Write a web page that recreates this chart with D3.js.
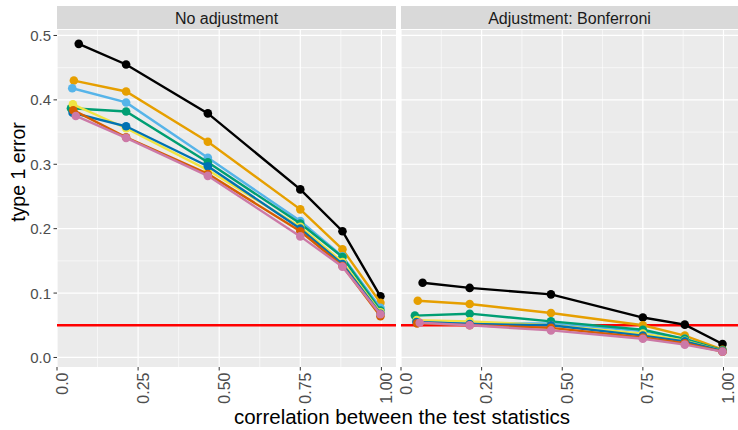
<!DOCTYPE html>
<html>
<head>
<meta charset="utf-8">
<script src="https://cdn.jsdelivr.net/npm/d3@7"></script>
<style>
  body { margin: 0; background: #fff; }
  svg { font-family: "Liberation Sans", Arial, sans-serif; }
</style>
</head>
<body>
<svg id="chart" width="738" height="430"></svg>
<script>
// correlation values (x) shared by all series, first point differs a little per series
let corr = [0.05, 0.213, 0.465, 0.75, 0.88, 0.997];
let firstCorr = [0.067, 0.052, 0.047, 0.043, 0.049, 0.048, 0.05, 0.058];

let colors = ["#000000", "#E69F00", "#56B4E9", "#009E73", "#F0E442", "#0072B2", "#D55E00", "#CC79A7"];

let panelTitles = ["No adjustment", "Adjustment: Bonferroni"];

// type 1 error, no adjustment
let noAdj = [
  [0.487, 0.455, 0.379, 0.261, 0.196, 0.095],
  [0.430, 0.413, 0.335, 0.230, 0.168, 0.085],
  [0.418, 0.396, 0.310, 0.212, 0.157, 0.077],
  [0.387, 0.382, 0.303, 0.208, 0.156, 0.073],
  [0.393, 0.356, 0.291, 0.203, 0.148, 0.070],
  [0.380, 0.359, 0.297, 0.200, 0.145, 0.068],
  [0.384, 0.342, 0.285, 0.196, 0.142, 0.064],
  [0.375, 0.341, 0.282, 0.188, 0.141, 0.067]
];

// type 1 error, Bonferroni
let bonf = [
  [0.116, 0.108, 0.098, 0.062, 0.051, 0.021],
  [0.088, 0.083, 0.069, 0.050, 0.034, 0.012],
  [0.057, 0.053, 0.053, 0.041, 0.029, 0.010],
  [0.065, 0.068, 0.056, 0.043, 0.029, 0.011],
  [0.058, 0.056, 0.050, 0.037, 0.026, 0.010],
  [0.055, 0.052, 0.050, 0.034, 0.025, 0.010],
  [0.053, 0.050, 0.046, 0.031, 0.022, 0.009],
  [0.054, 0.050, 0.042, 0.029, 0.020, 0.009]
];

let alpha = 0.05;
let xTicks = [0, 0.25, 0.5, 0.75, 1];
let xTickLabels = ["0.0", "0.25", "0.50", "0.75", "1.00"];
let yTicks = [0, 0.1, 0.2, 0.3, 0.4, 0.5];

let svg = d3.select("#chart");

let panelTop = 30, panelBottom = 367, stripTop = 6;
let panels = [
  { x0: 57, x1: 396, data: noAdj, title: panelTitles[0] },
  { x0: 401, x1: 738, data: bonf, title: panelTitles[1] }
];

let y = d3.scaleLinear().domain([-0.0148, 0.5085]).range([panelBottom, panelTop]);

panels.forEach(function(p, pi) {
  let x = d3.scaleLinear().domain([0, 1.045]).range([p.x0, p.x1]);
  let g = svg.append("g");

  // background
  g.append("rect")
    .attr("x", p.x0).attr("y", panelTop)
    .attr("width", p.x1 - p.x0).attr("height", panelBottom - panelTop)
    .attr("fill", "#EBEBEB");

  // minor grid
  [0.05, 0.15, 0.25, 0.35, 0.45].forEach(function(v) {
    g.append("line")
      .attr("x1", p.x0).attr("x2", p.x1)
      .attr("y1", y(v)).attr("y2", y(v))
      .attr("stroke", "#fff").attr("stroke-width", 0.6);
  });
  [0.125, 0.375, 0.625, 0.875].forEach(function(v) {
    g.append("line")
      .attr("x1", x(v)).attr("x2", x(v))
      .attr("y1", panelTop).attr("y2", panelBottom)
      .attr("stroke", "#fff").attr("stroke-width", 0.6);
  });

  // major grid
  yTicks.forEach(function(v) {
    g.append("line")
      .attr("x1", p.x0).attr("x2", p.x1)
      .attr("y1", y(v)).attr("y2", y(v))
      .attr("stroke", "#fff").attr("stroke-width", 1.2);
  });
  xTicks.forEach(function(v) {
    g.append("line")
      .attr("x1", x(v)).attr("x2", x(v))
      .attr("y1", panelTop).attr("y2", panelBottom)
      .attr("stroke", "#fff").attr("stroke-width", 1.2);
  });

  // strip
  g.append("rect")
    .attr("x", p.x0).attr("y", stripTop)
    .attr("width", p.x1 - p.x0).attr("height", panelTop - stripTop - 1)
    .attr("fill", "#D9D9D9");
  g.append("text")
    .attr("x", (p.x0 + p.x1) / 2).attr("y", (stripTop + panelTop) / 2 + 5.5)
    .attr("text-anchor", "middle")
    .attr("font-size", 16)
    .attr("fill", "#1A1A1A")
    .text(p.title);

  // reference line at alpha
  g.append("line")
    .attr("x1", p.x0).attr("x2", p.x1)
    .attr("y1", y(alpha)).attr("y2", y(alpha))
    .attr("stroke", "#FF0000").attr("stroke-width", 2.4);

  // series
  let line = d3.line()
    .x(function(d) { return x(d.x); })
    .y(function(d) { return y(d.y); });

  p.data.forEach(function(vals, si) {
    let pts = vals.map(function(v, i) {
      return { x: i === 0 ? firstCorr[si] : corr[i], y: v };
    });
    g.append("path")
      .datum(pts)
      .attr("d", line)
      .attr("fill", "none")
      .attr("stroke", colors[si])
      .attr("stroke-width", 2.4);
    g.selectAll(null)
      .data(pts)
      .enter().append("circle")
      .attr("cx", function(d) { return x(d.x); })
      .attr("cy", function(d) { return y(d.y); })
      .attr("r", 4.3)
      .attr("fill", colors[si]);
  });

  // x axis ticks + rotated labels
  xTicks.forEach(function(v, i) {
    g.append("line")
      .attr("x1", x(v)).attr("x2", x(v))
      .attr("y1", panelBottom).attr("y2", panelBottom + 3.5)
      .attr("stroke", "#333").attr("stroke-width", 1);
    g.append("text")
      .attr("transform", "translate(" + (x(v) + 5) + "," + (panelBottom + 5.5) + ") rotate(-90)")
      .attr("text-anchor", "end")
      .attr("dominant-baseline", "central")
      .attr("font-size", 16)
      .attr("fill", "#4D4D4D")
      .text(xTickLabels[i]);
  });
});

// y axis (left panel only)
yTicks.forEach(function(v) {
  svg.append("line")
    .attr("x1", 53.5).attr("x2", 57)
    .attr("y1", y(v)).attr("y2", y(v))
    .attr("stroke", "#333").attr("stroke-width", 1);
  svg.append("text")
    .attr("x", 51).attr("y", y(v))
    .attr("text-anchor", "end")
    .attr("dominant-baseline", "central")
    .attr("font-size", 15)
    .attr("fill", "#4D4D4D")
    .text(d3.format(".1f")(v));
});

// axis titles
svg.append("text")
  .attr("transform", "translate(25,172) rotate(-90)")
  .attr("text-anchor", "middle")
  .attr("font-size", 19.5)
  .attr("fill", "#000")
  .text("type 1 error");

svg.append("text")
  .attr("x", 402).attr("y", 424)
  .attr("text-anchor", "middle")
  .attr("font-size", 20.5)
  .attr("fill", "#000")
  .text("correlation between the test statistics");
</script>
</body>
</html>
